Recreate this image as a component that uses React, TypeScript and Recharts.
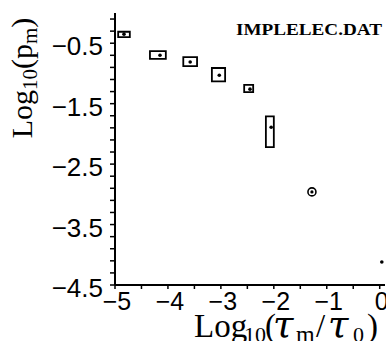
import { ScatterChart, Scatter, XAxis, YAxis, ReferenceArea, Customized } from "recharts"

// log10(tau_m / tau_0) and log10(p_m) of each measured point
const tauRatio = [-4.83, -4.15, -3.58, -3.03, -2.45, -2.05, -1.28, 0.04]
const logP = [-0.35, -0.7, -0.81, -1.03, -1.26, -1.89, -2.96, -4.12]
const marker = ["dot", "dot", "dot", "dot", "dot", "dot", "ring", "dot"]

// error boxes for the first six points
const boxXLo = [-4.94, -4.34, -3.71, -3.17, -2.56, -2.15]
const boxXHi = [-4.72, -4.04, -3.45, -2.92, -2.39, -2.0]
const boxYLo = [-0.4, -0.76, -0.88, -1.13, -1.31, -2.22]
const boxYHi = [-0.31, -0.63, -0.73, -0.91, -1.19, -1.71]

const xTicks = [-5, -4.5, -4, -3.5, -3, -2.5, -2, -1.5, -1, -0.5, 0]
const xTickLabels = [-5, -4, -3, -2, -1, 0]
const yTicks = [
  -4.5, -4.3, -4.1, -3.9, -3.7, -3.5, -3.3, -3.1, -2.9, -2.7, -2.5, -2.3, -2.1,
  -1.9, -1.7, -1.5, -1.3, -1.1, -0.9, -0.7, -0.5, -0.3, -0.1,
]
const yTickLabels = [-4.5, -3.5, -2.5, -1.5, -0.5]

const points = tauRatio.map((x, i) => ({ x, y: logP[i], kind: marker[i] }))

const sans = "'Liberation Sans', Arial, sans-serif"
const serif = "'Liberation Serif', 'Times New Roman', serif"
const greek = "'DejaVu Serif', serif"

const fmt = (v: number) => (v < 0 ? "\u2212" + String(-v) : String(v))

function XTick(props: any) {
  const { x, y, payload } = props
  const show = xTickLabels.includes(payload.value)
  return (
    <g>
      <line x1={x} x2={x} y1={y} y2={y + 4} stroke="#000" strokeWidth={1.5} />
      {show && (
        <text x={x + 2} y={y + 25} textAnchor="middle" fontFamily={sans} fontSize={25} fill="#000">
          {fmt(payload.value)}
        </text>
      )}
    </g>
  )
}

function YTick(props: any) {
  const { x, y, payload } = props
  const show = yTickLabels.includes(payload.value)
  return (
    <g>
      <line x1={x - 5} x2={x} y1={y} y2={y} stroke="#000" strokeWidth={1.5} />
      {show && (
        <text x={x - 12} y={y + 12} textAnchor="end" fontFamily={sans} fontSize={26} fill="#000">
          {fmt(payload.value)}
        </text>
      )}
    </g>
  )
}

function Marker(props: any) {
  const { cx, cy, payload } = props
  if (payload.kind === "ring") {
    return (
      <g>
        <circle cx={cx} cy={cy} r={4} fill="none" stroke="#000" strokeWidth={1.6} />
        <circle cx={cx} cy={cy} r={1.6} fill="#000" />
      </g>
    )
  }
  return <circle cx={cx} cy={cy} r={1.8} fill="#000" />
}

function Titles() {
  return (
    <g fill="#000">
      <text x={236} y={35} fontFamily={serif} fontWeight="bold" fontSize={17} textLength={146} lengthAdjust="spacingAndGlyphs">
        IMPLELEC.DAT
      </text>
      <text transform="translate(32,78) rotate(-90)" textAnchor="middle" fontFamily={serif} fontSize={30}>
        Log<tspan fontSize={21} dy={5}>10</tspan>
        <tspan dy={-5}>(p</tspan>
        <tspan fontSize={21} dy={5}>m</tspan>
        <tspan dy={-5}>)</tspan>
      </text>
      <text fontFamily={serif} fontSize={33}>
        <tspan x={194} y={337}>Log</tspan>
        <tspan x={244} y={342} fontSize={22}>10</tspan>
        <tspan x={265} y={337}>(</tspan>
        <tspan x={273} y={337} fontFamily={greek} fontStyle="italic" fontSize={37}>τ</tspan>
        <tspan x={296} y={342} fontSize={24}>m</tspan>
        <tspan x={316} y={337}>/</tspan>
        <tspan x={328} y={337} fontFamily={greek} fontStyle="italic" fontSize={37}>τ</tspan>
        <tspan x={353} y={342} fontSize={22}>0</tspan>
        <tspan x={367} y={337}>)</tspan>
      </text>
    </g>
  )
}

export default function App() {
  return (
    <div style={{ position: "absolute", left: 0, top: 0, background: "#fff" }}>
      <ScatterChart width={386} height={341} margin={{ top: 13, right: 1, bottom: 0, left: 0 }}>
        <XAxis
          type="number"
          dataKey="x"
          domain={[-5, 0.1]}
          ticks={xTicks}
          interval={0}
          height={56}
          tickSize={0}
          tickMargin={0}
          tickLine={false}
          tick={<XTick />}
          axisLine={{ stroke: "#000", strokeWidth: 2 }}
          allowDataOverflow
        />
        <XAxis
          xAxisId="top"
          orientation="top"
          type="number"
          domain={[-5, 0.1]}
          height={0}
          tick={false}
          tickLine={false}
          axisLine={{ stroke: "#000", strokeWidth: 2 }}
        />
        <YAxis
          type="number"
          dataKey="y"
          domain={[-4.5, 0]}
          ticks={yTicks}
          interval={0}
          width={115}
          tickSize={0}
          tickMargin={0}
          tickLine={false}
          tick={<YTick />}
          axisLine={{ stroke: "#000", strokeWidth: 2 }}
          allowDataOverflow
        />
        {boxXLo.map((x1, i) => (
          <ReferenceArea
            key={i}
            x1={x1}
            x2={boxXHi[i]}
            y1={boxYLo[i]}
            y2={boxYHi[i]}
            fill="none"
            fillOpacity={0}
            stroke="#000"
            strokeWidth={1.8}
            ifOverflow="visible"
          />
        ))}
        <Scatter data={points} shape={<Marker />} isAnimationActive={false} />
        <Customized component={<Titles />} />
      </ScatterChart>
    </div>
  )
}
